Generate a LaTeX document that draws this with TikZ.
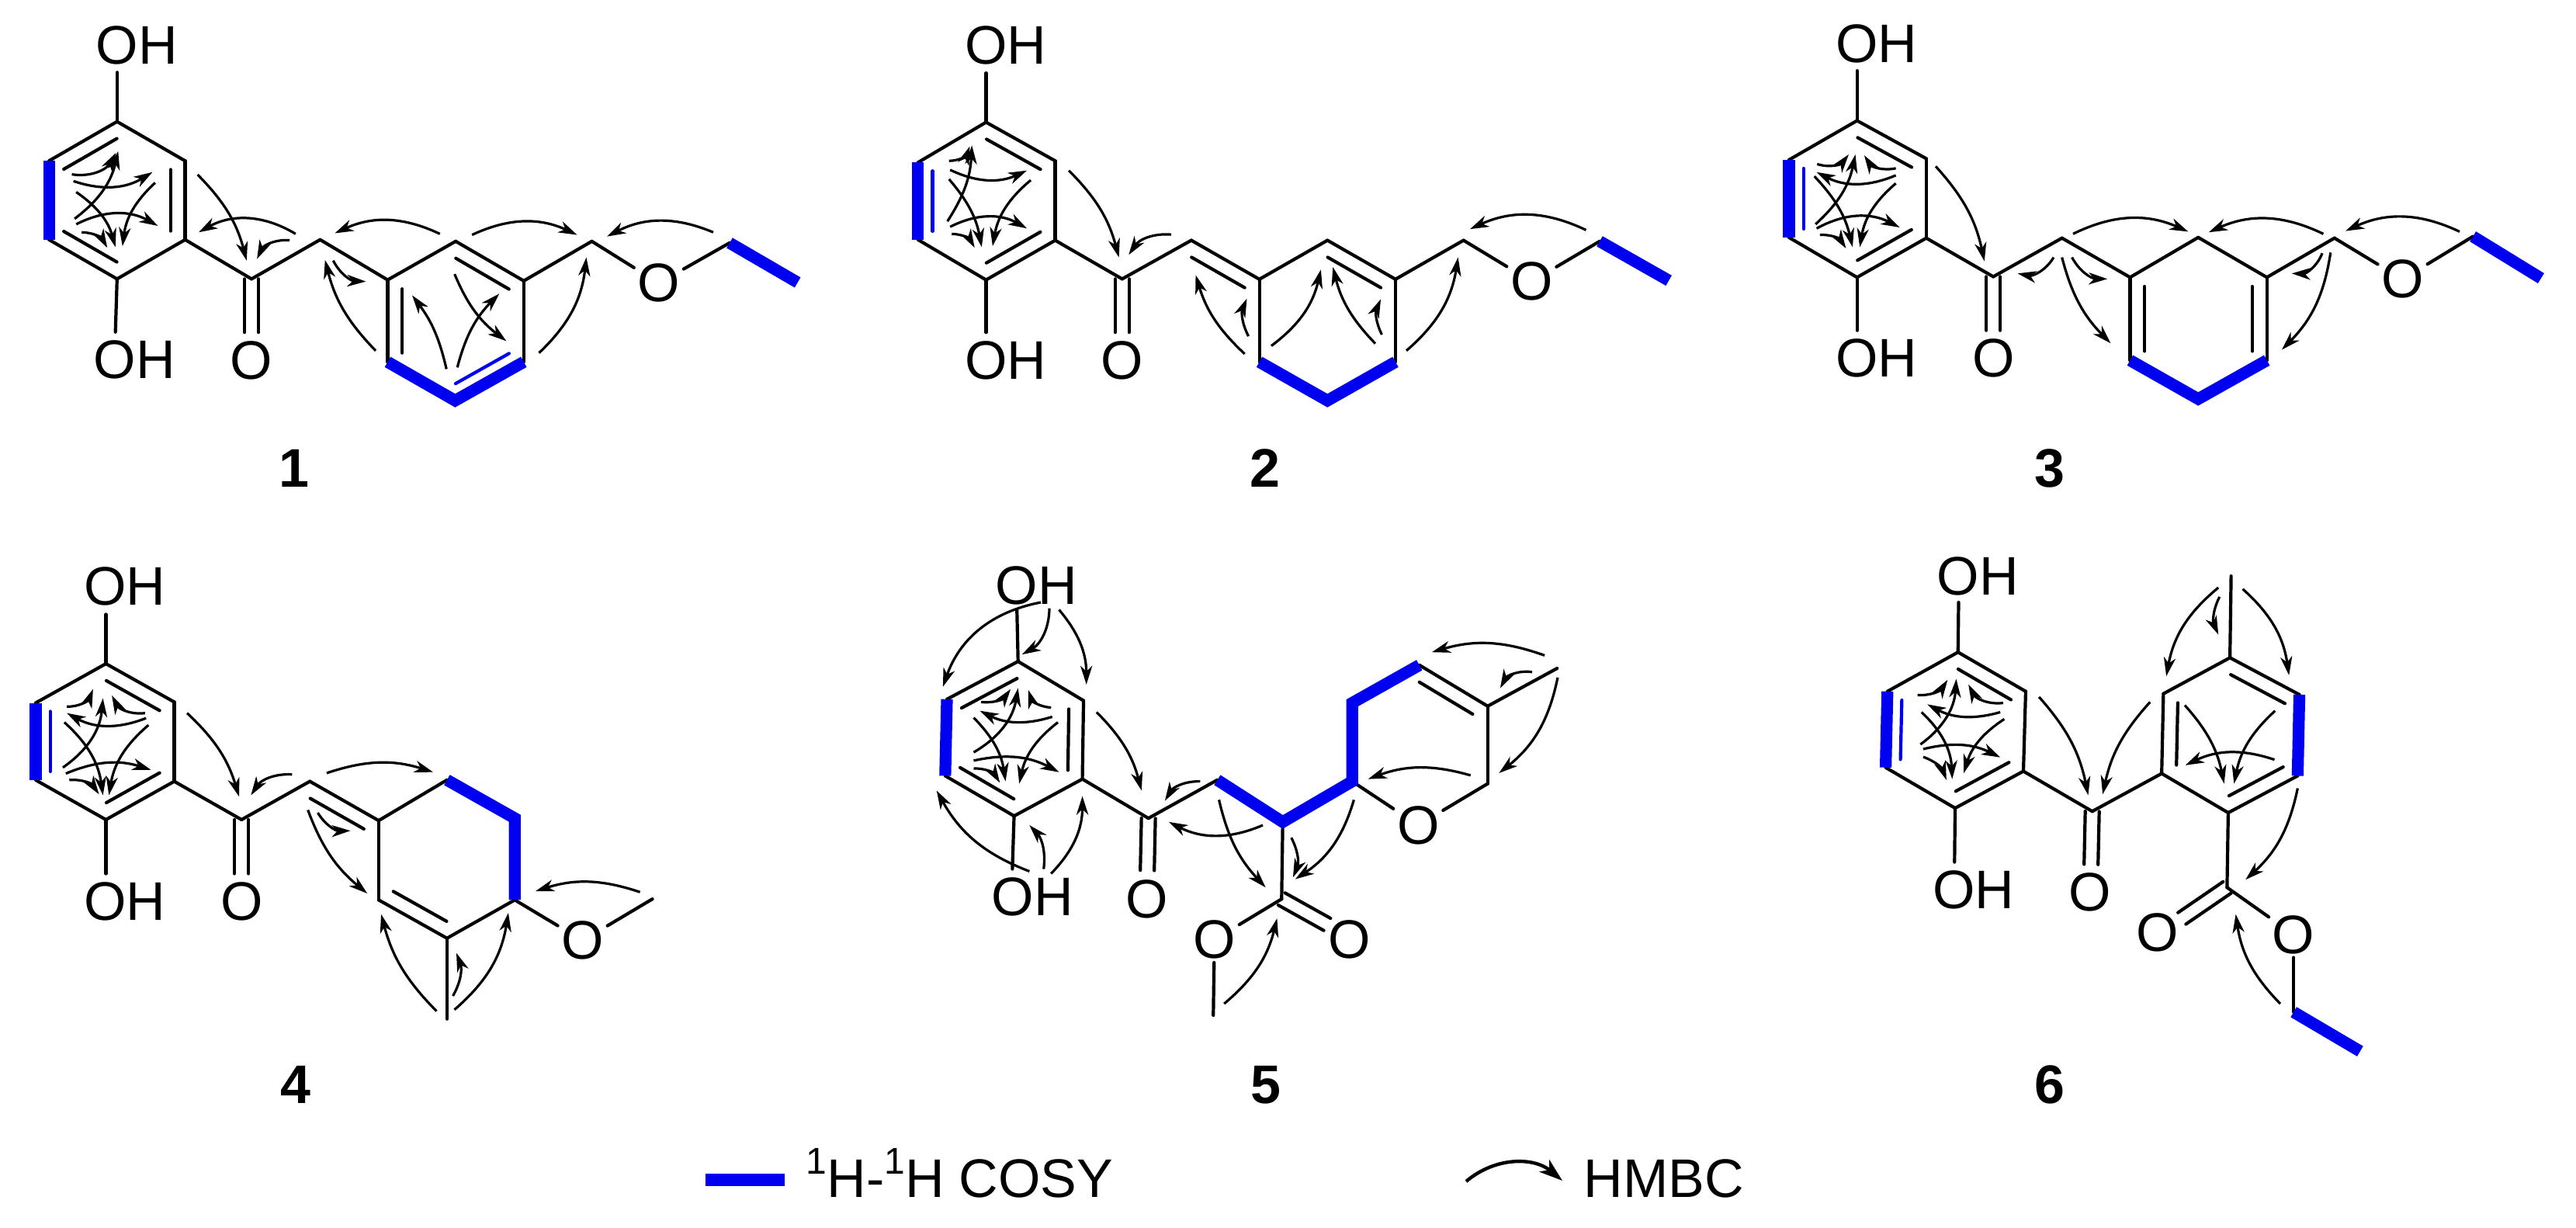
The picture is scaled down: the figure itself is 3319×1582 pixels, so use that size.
\documentclass[tikz,border=0pt]{standalone}
\usepackage{fontspec}
\setmainfont{Liberation Sans}
\usetikzlibrary{arrows.meta,calc}
\definecolor{cosyblue}{RGB}{0,0,240}
\tikzset{
  bond/.style={line width=1.05pt,line cap=round,line join=round},
  cosy/.style={line width=3.8pt,cosyblue,line cap=butt,line join=miter},
  cosythin/.style={line width=1.05pt,cosyblue,line cap=round},
  hmbc/.style={line width=.8pt,-{Stealth[length=6pt,width=3.8pt,inset=1.8pt]}},
  hmbckey/.style={line width=1.1pt,-{Stealth[length=7.5pt,width=5pt,inset=2pt]}},
  lab/.style={inner sep=1pt,font=\fontsize{17.5}{17.5}\selectfont},
  num/.style={inner sep=1pt,font=\fontsize{17.5}{17.5}\selectfont\bfseries},
  mol/.style n args={4}{shift={(#1,#2)},x=#3*.25pt,y=-#4*.25pt}
}
\newcommand{\atoms}[2]{\foreach \n/\ax/\ay in {#2} \coordinate (#1\n) at (\ax,\ay);}
\newcommand{\bonds}[2]{\foreach \u/\v in {#2} \draw[bond] (#1\u) -- (#1\v);}
\newcommand{\inbond}[3][bond]{\draw[#1] ($(#2)!.11!(#3)!4.7pt!-90:(#3)$) -- ($(#3)!.11!(#2)!4.7pt!90:(#2)$);}
\newcommand{\dblo}[2]{\draw[bond] ($(#1)!2.25pt!90:(#2)$) -- ($(#2)!2.25pt!-90:(#1)$);
  \draw[bond] ($(#1)!2.25pt!-90:(#2)$) -- ($(#2)!2.25pt!90:(#1)$);}
\newcommand{\arcs}[1]{\foreach \sx/\sy/\ex/\ey/\k in {#1} \draw[hmbc] (\sx,\sy) to[bend left=\k] (\ex,\ey);}
\newcommand{\supone}{\raisebox{.42em}{\fontsize{12}{12}\selectfont 1}}
\begin{document}
\begin{tikzpicture}[x=.25pt,y=-.25pt]
\useasboundingbox (0,0) rectangle (3319,1582);
% compound 1
\begin{scope}[mol={0}{0}{.7015}{.4145}]
\atoms{m1}{a/215/378,b/340/500,c/340/745,d/215/867,e/90/745,f/90/500,t/215/225,u/212/1032,g/462/867,x/462/1033,
  h/588/745,i/712/870,j/837/750,k/962/873,l/962/1125,m/836/1245,n/712/1125,q/1087/750,r/1340/755,s/1465/878}
\node[lab] (m1oha) at (251,142) {OH};
\node[lab] (m1ohd) at (247,1117) {OH};
\node[lab] (m1o) at (461,1120) {O};
\node[lab] (m1p) at (1210,880) {O};
\node[num] (m1num) at (540,1455) {1};
\bonds{m1}{a/b,b/c,c/d,d/e,f/a,a/t,d/u,c/g,g/h,h/i,i/j,j/k,k/q,q/p,p/r,i/n,k/l}
\dblo{m1g}{m1x}
\inbond{m1f}{m1a} \inbond{m1b}{m1c} \inbond{m1d}{m1e} \inbond{m1j}{m1k} \inbond{m1n}{m1i}
\inbond[cosythin]{m1l}{m1m}
\draw[cosy] (m1f) -- (m1e);
\draw[cosy] (m1n) -- (m1m) -- (m1l);
\draw[cosy] (m1r) -- (m1s);
\arcs{132/542/213/475/-35,135/563/280/535/-25,137/680/217/470/-20,140/597/212/768/20,285/568/225/765/-20,
  140/697/290/702/28,150/722/197/770/30,363/543/453/810/15,543/727/365/722/-30,532/747/472/805/-35,
  808/727/615/725/-25,867/730/1060/730/25,1310/722/1115/735/-25,612/810/672/875/-30,690/1090/597/808/15,
  820/1147/757/918/-12,840/1142/917/913/15,835/852/930/1060/-15,990/1097/1077/800/-20}
\end{scope}
% compound 2
\begin{scope}[mol={1100}{0}{.7015}{.4145}]
\atoms{m2}{a/243/380,b/370/500,c/370/747,d/243/870,e/118/745,f/118/505,t/243/227,u/243/1033,g/493/867,x/493/1033,
  h/620/747,i/745/868,j/870/747,k/995/868,l/995/1125,m/870/1245,n/745/1125,q/1120/747,r/1370/750,s/1497/872}
\node[lab] (m2oha) at (279,142) {OH};
\node[lab] (m2ohd) at (279,1120) {OH};
\node[lab] (m2o) at (493,1120) {O};
\node[lab] (m2p) at (1245,875) {O};
\node[num] (m2num) at (756,1455) {2};
\bonds{m2}{a/b,b/c,c/d,d/e,f/a,a/t,d/u,c/g,g/h,h/i,i/j,j/k,k/q,q/p,p/r,i/n,k/l}
\dblo{m2g}{m2x}
\inbond{m2a}{m2b} \inbond{m2c}{m2d} \inbond{m2h}{m2i} \inbond{m2j}{m2k}
\inbond[cosythin]{m2e}{m2f}
\draw[cosy] (m2f) -- (m2e);
\draw[cosy] (m2n) -- (m2m) -- (m2l);
\draw[cosy] (m2r) -- (m2s);
\arcs{175/500/213/455/-35,177/528/318/530/-25,172/688/217/452/-15,175/557/235/768/15,325/560/255/765/-20,
  177/705/318/710/28,180/727/222/770/30,395/530/487/800/15,583/729/505/792/-30,718/1100/628/855/15,
  725/1045/722/928/25,767/1075/858/838/-20,958/1068/880/830/15,970/1040/968/930/25,1015/1090/1110/800/-20,
  1345/715/1132/712/-25}
\end{scope}
% compound 3
\begin{scope}[mol={2200}{0}{.7136}{.4145}]
\atoms{m3}{a/270/375,b/395/493,c/395/740,d/270/862,e/147/738,f/147/497,t/270/220,u/270/1027,g/516/860,x/516/1027,
  h/640/740,i/763/862,j/886/738,k/1010/862,l/1010/1120,m/886/1240,n/763/1120,q/1132/740,r/1382/735,s/1505/865}
\node[lab] (m3oha) at (305,135) {OH};
\node[lab] (m3ohd) at (305,1113) {OH};
\node[lab] (m3o) at (516,1113) {O};
\node[lab] (m3p) at (1255,868) {O};
\node[num] (m3num) at (618,1455) {3};
\bonds{m3}{a/b,b/c,c/d,d/e,f/a,a/t,d/u,c/g,g/h,h/i,i/j,j/k,k/q,q/p,p/r,i/n,k/l}
\dblo{m3g}{m3x}
\inbond{m3a}{m3b} \inbond{m3c}{m3d} \inbond{m3n}{m3i} \inbond{m3k}{m3l}
\inbond[cosythin]{m3e}{m3f}
\draw[cosy] (m3f) -- (m3e);
\draw[cosy] (m3n) -- (m3m) -- (m3l);
\draw[cosy] (m3r) -- (m3s);
\arcs{198/510/255/480/-35,340/523/283/483/35,340/545/197/535/25,195/697/267/480/-18,193/548/262/768/15,
  340/570/275/768/-20,197/710/347/707/28,203/730/250/772/30,412/517/500/812/15,625/800/560/850/35,
  658/800/722/867/-30,640/800/728/1067/-15,660/727/868/720/25,1112/727/905/722/-25,1110/787/1055/850/35,
  1125/785/1037/1087/18,1358/720/1152/718/-25}
\end{scope}
% compound 4
\begin{scope}[mol={0}{650}{.6378}{.5944}]
\atoms{m4}{a/214/345,b/352/428,c/352/600,d/214/683,e/72/597,f/72/430,t/214/238,u/214/800,g/488/683,x/488/800,
  h/626/600,i/765/685,j/903/597,k/1040/680,l/1040/857,m/903/940,n/765/857,r/1318/855,s/903/1115}
\node[lab] (m4oha) at (252,178) {OH};
\node[lab] (m4ohd) at (252,860) {OH};
\node[lab] (m4o) at (488,860) {O};
\node[lab] (m4p) at (1177,945) {O};
\node[num] (m4num) at (597,1257) {4};
\bonds{m4}{a/b,b/c,c/d,d/e,f/a,a/t,d/u,c/g,g/h,h/i,i/j,i/n,n/m,m/l,l/p,p/r,m/s}
\dblo{m4g}{m4x}
\inbond{m4a}{m4b} \inbond{m4c}{m4d} \inbond{m4h}{m4i} \inbond{m4m}{m4n}
\inbond[cosythin]{m4e}{m4f}
\draw[cosy] (m4f) -- (m4e);
\draw[cosy] (m4j) -- (m4k) -- (m4l);
\arcs{135/438/188/400/-35,293/452/226/414/35,295/463/135/452/25,127/570/208/420/-25,130/472/208/630/20,
  300/478/220/630/-20,133/583/305/575/20,140/597/200/628/30,378/452/483/633/15,590/585/507/630/-30,
  660/582/875/580/18,642/668/708/707/-30,622/662/742/843/-15,882/1098/770/888/15,915/1065/922/972/-25,
  918/1095/1027/885/-20,1293/840/1082/838/-18}
\end{scope}
% compound 5
\begin{scope}[mol={1000}{650}{.7334}{.5944}]
\atoms{m5}{a/425/340,b/540/425,c/538/595,d/418/675,e/297/588,f/300/422,t/423/228,u/415/790,g/654/680,x/652/793,
  h/775/597,i/890/688,j/1012/600,k/1012/430,l/1130/348,m/1250/437,n/1250/605,s/1372/355,
  v/888/855,w/968/910,y/768/1107}
\node[lab] (m5oha) at (457,175) {OH};
\node[lab] (m5ohd) at (450,850) {OH};
\node[lab] (m5o) at (652,855) {O};
\node[lab] (m5p) at (1128,695) {O};
\node[lab] (m5q) at (1007,943) {O};
\node[lab] (m5r) at (770,943) {O};
\node[num] (m5num) at (860,1258) {5};
\bonds{m5}{a/b,b/c,c/d,d/e,f/a,a/t,d/u,c/g,g/h,l/m,m/n,n/p,p/j,m/s,i/v,v/r,r/y}
\dblo{m5g}{m5x}
\dblo{m5v}{m5w}
\inbond{m5f}{m5a} \inbond{m5b}{m5c} \inbond{m5d}{m5e} \inbond{m5l}{m5m}
\draw[cosy] (m5f) -- (m5e);
\draw[cosy] (m5h) -- (m5i) -- (m5j) -- (m5k) -- (m5l);
\arcs{465/212/293/395/-30,480/225/432/325/30,497/228/545/390/20,360/428/412/400/-30,483/440/443/402/35,
  485/460/358/447/22,347/537/425/398/-25,347/462/403/600/18,495/472/427/605/-20,347/555/497/580/20,
  347/572/393/603/30,563/450/642/620/15,745/600/683/642/-30,855/695/690/688/25,778/640/860/830/-15,
  905/722/908/808/25,1015/640/912/812/20,1220/587/1040/595/-18,1350/327/1152/320/-18,1328/363/1272/398/-35,
  1373/375/1270/582/20,445/795/282/620/20,470/790/445/695/-25,483/800/538/632/-22,787/1082/880/897/-18}
\end{scope}
% compound 6
\begin{scope}[mol={2150}{650}{.7455}{.5944}]
\atoms{m6}{a/500/320,b/617/405,c/613/578,d/495/658,e/375/570,f/378/405,t/501/212,u/494/775,g/732/665,x/730/780,
  h/852/583,i/967/668,j/1087/588,k/1090/412,l/970/332,m/855/410,s/972/155,v/965/830,w/887/897,y/1080/1100,z/1195/1185}
\node[lab] (m6oha) at (534,155) {OH};
\node[lab] (m6ohd) at (527,835) {OH};
\node[lab] (m6o) at (728,840) {O};
\node[lab] (m6q) at (845,928) {O};
\node[lab] (m6r) at (1080,932) {O};
\node[num] (m6num) at (658,1258) {6};
\bonds{m6}{a/b,b/c,c/d,d/e,f/a,a/t,d/u,c/g,g/h,h/i,i/j,k/l,l/m,m/h,l/s,i/v,v/r,r/y}
\dblo{m6g}{m6x}
\dblo{m6v}{m6w}
\inbond{m6a}{m6b} \inbond{m6c}{m6d} \inbond{m6l}{m6k} \inbond{m6j}{m6i} \inbond{m6h}{m6m}
\inbond[cosythin]{m6e}{m6f}
\draw[cosy] (m6f) -- (m6e);
\draw[cosy] (m6k) -- (m6j);
\draw[cosy] (m6y) -- (m6z);
\arcs{430/413/482/380/-30,578/430/518/390/35,573/450/447/433/22,435/520/497/378/-25,437/450/490/595/22,
  580/465/510/582/-20,440/530/573/548/20,440/547/480/597/25,640/417/725/630/15,832/428/750/628/-15,
  892/435/960/605/15,1048/447/977/605/-18,1047/553/893/565/-22,950/180/860/372/-20,952/200/950/282/-25,
  992/183/1072/370/20,1087/615/997/813/18,1057/1082/980/888/18}
\end{scope}
% legend
\coordinate (keya) at (909,1520);
\coordinate (keyb) at (1011,1520);
\draw[cosy] (keya) -- (keyb);
\node[lab,anchor=base west,inner sep=0pt] (cosytext) at (1038,1542) {\supone H-\supone H COSY};
\coordinate (keyc) at (1889,1522);
\coordinate (keyd) at (2013,1521);
\draw[hmbckey] (keyc) to[bend left=40] (keyd);
\node[lab,anchor=base west,inner sep=0pt] (hmbctext) at (2040,1542) {HMBC};
\end{tikzpicture}
\end{document}
